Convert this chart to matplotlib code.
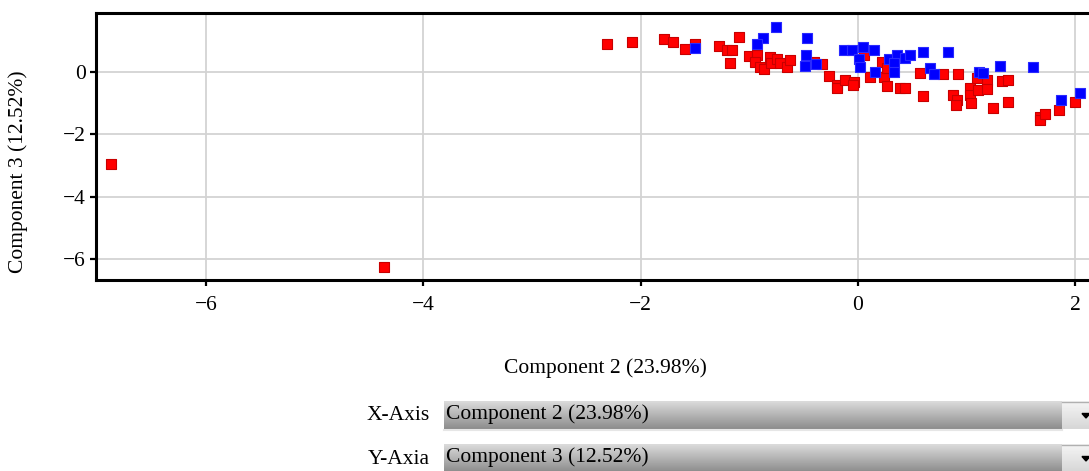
import numpy as np
import matplotlib
matplotlib.use("Agg")
import matplotlib.pyplot as plt

plt.rcParams['font.family'] = ['Liberation Serif', 'DejaVu Serif']

# PCA scores, two groups
red_x = [-6.87, -4.364, -2.309, -2.074, -1.782, -1.702, -1.589, -1.497, -1.282, -1.205,
         -1.159, -1.095, -1.175, -1.006, -0.929, -0.945, -0.899, -0.868, -0.807, -0.800,
         -0.745, -0.715, -0.648, -0.623, -0.408, -0.331, -0.270, -0.193, -0.188, -0.117,
         -0.040, -0.046, 0.052, 0.107, 0.221, 0.236, 0.267, 0.272, 0.389, 0.435,
         0.567, 0.603, 0.787, 0.920, 0.879, 0.911, 0.904, 1.033, 1.027, 1.040,
         1.095, 1.109, 1.187, 1.187, 1.247, 1.325, 1.385, 1.380, 1.671, 1.671,
         1.723, 1.852, 1.999]
red_y = [-2.96, -6.24, 0.876, 0.959, 1.055, 0.959, 0.726, 0.886, 0.831, 0.694,
         0.694, 1.119, 0.269, 0.512, 0.534, 0.320, 0.160, 0.077, 0.480, 0.269,
         0.397, 0.269, 0.141, 0.374, 0.320, 0.237, -0.138, -0.425, -0.531, -0.265,
         -0.320, -0.425, 0.534, -0.179, 0.320, -0.160, 0.109, -0.457, -0.531, -0.531,
         -0.032, -0.777, -0.083, -0.083, -0.745, -0.905, -1.065, -0.531, -0.745, -0.991,
         -0.211, -0.585, -0.265, -0.563, -1.170, -0.297, -0.265, -0.959, -1.439, -1.545,
         -1.362, -1.225, -0.959]

blue_x = [-0.754, -0.874, -0.929, -1.497, -0.466, -0.476, -0.485, -0.384, -0.132, -0.055,
          0.046, 0.150, 0.006, 0.021, 0.159, 0.282, 0.364, 0.435, 0.481, 0.328,
          0.328, 0.603, 0.828, 0.665, 0.696, 1.116, 1.150, 1.303, 1.615, 1.868,
          2.039]
blue_y = [1.439, 1.068, 0.886, 0.748, 1.068, 0.534, 0.182, 0.237, 0.694, 0.694,
          0.799, 0.694, 0.397, 0.141, 0.0, 0.406, 0.534, 0.429, 0.534, 0.269,
          0.0, 0.640, 0.640, 0.109, -0.083, 0.0, -0.032, 0.182, 0.141, -0.905,
          -0.691]

x_label = "Component 2 (23.98%)"
y_label = "Component 3 (12.52%)"
x_ticks = [-6, -4, -2, 0, 2]
y_ticks = [0, -2, -4, -6]

FS = 15.5
W, H = 1089, 471
fig = plt.figure(figsize=(W / 100, H / 100), dpi=100)
fig.patch.set_facecolor('white')

ax = fig.add_axes([96 / W, 1 - 280 / H, (1097 - 96) / W, (280 - 13) / H])
ax.set_xlim(-7.01, 2.2)
ax.set_ylim(-6.66, 1.877)
ax.set_xticks(x_ticks)
ax.set_yticks(y_ticks)
ax.set_xticklabels([str(t).replace('-', '\u2212') for t in x_ticks])
ax.set_yticklabels([str(t).replace('-', '\u2212') for t in y_ticks])
ax.grid(True, color='#d3d3d3', lw=1.3)
ax.set_axisbelow(True)
for s in ax.spines.values():
    s.set_linewidth(2.2)
    s.set_color('black')
ax.tick_params(direction='out', length=4.5, width=1.6, labelsize=FS)
ax.tick_params(axis='x', pad=7)
ax.tick_params(axis='y', pad=3)

ax.scatter(red_x, red_y, marker='s', s=62, c='#ff0000', edgecolors='#c80000',
           linewidths=0.8, zorder=3)
ax.scatter(blue_x, blue_y, marker='s', s=62, c='#0000ff', edgecolors='#2a2aff',
           linewidths=0.8, zorder=4)

fig.text(18 / W, 1 - 172 / H, y_label, rotation=90, ha='center', va='center', fontsize=FS)
fig.text(605 / W, 1 - 368 / H, x_label, ha='center', va='center', fontsize=FS)

# selector widgets under the plot
ui = fig.add_axes([0, 0, 1, 1], zorder=-1)
ui.set_xlim(0, W)
ui.set_ylim(H, 0)
ui.axis('off')
grad = np.linspace(0.86, 0.55, 64).reshape(-1, 1)
grad_btn = np.linspace(0.96, 0.84, 64).reshape(-1, 1)
for top, bot, name, val in [(401, 429, "X-Axis", x_label), (444, 472, "Y-Axia", y_label)]:
    ui.imshow(grad, cmap='gray', vmin=0, vmax=1, aspect='auto',
              extent=(444, 1062, bot, top))
    ui.imshow(grad_btn, cmap='gray', vmin=0, vmax=1, aspect='auto',
              extent=(1062, 1090, bot, top))
    ui.plot([1062, 1090], [top + 0.5, top + 0.5], color='#b0b0b0', lw=1)
    ui.plot([444, 1062], [bot + 1, bot + 1], color='#e6e6e6', lw=1.5)
    cy = (top + bot) / 2
    ui.fill([1082, 1090, 1086], [cy - 1.5, cy - 1.5, cy + 3], color='black')
    ui.text(430, cy + 1, name, ha='right', va='center', fontsize=FS)
    ui.text(446, cy - 1, val, ha='left', va='center', fontsize=FS)
ui.set_xlim(0, W)
ui.set_ylim(H, 0)

fig.savefig('out.png', dpi=100)
